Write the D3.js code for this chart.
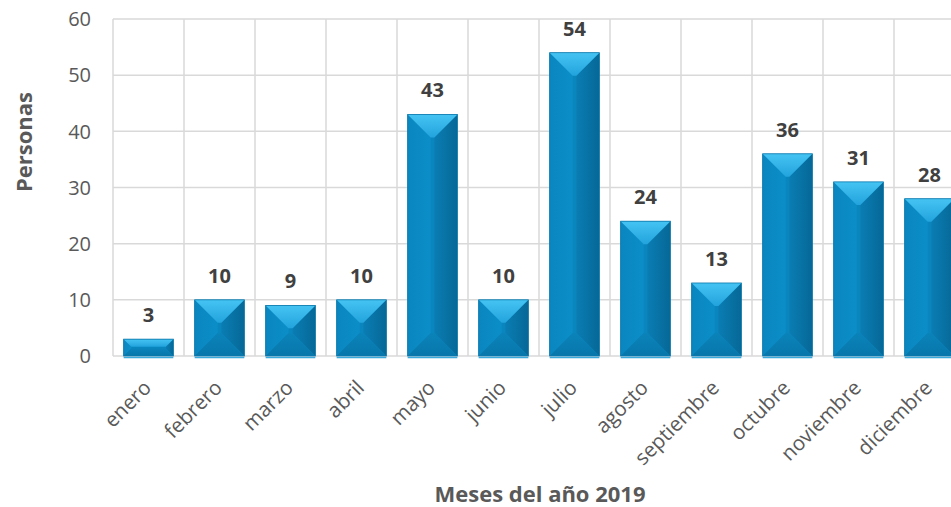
<!DOCTYPE html>
<html>
<head>
<meta charset="utf-8">
<script src="https://cdn.jsdelivr.net/npm/d3@7"></script>
<style>
  body { margin: 0; background: #fff; }
  svg { display: block; font-family: "Open Sans", sans-serif; }
</style>
</head>
<body>
<div id="canvas"></div>
<script>
"use strict"

/* Data */
let months = ["enero", "febrero", "marzo", "abril", "mayo", "junio",
    "julio", "agosto", "septiembre", "octubre", "noviembre", "diciembre"];
let persons = [3, 10, 9, 10, 43, 10, 54, 24, 13, 36, 31, 28];
let yTicks = [0, 10, 20, 30, 40, 50, 60];

/* Drawing config */
let svgWidth = 951;
let svgHeight = 507;
let plotLeft = 113;
let plotTop = 19;
let plotBottom = 356;
let band = 71; // width of one month slot, the last one runs off the page

let svg = d3.select("#canvas")
    .append("svg")
    .attr("width", svgWidth)
    .attr("height", svgHeight);

let xScale = d3.scaleBand()
    .domain(months)
    .range([plotLeft, plotLeft + band * months.length])
    .paddingInner(0.3)
    .paddingOuter(0.15);

let yScale = d3.scaleLinear()
    .domain([0, 60])
    .range([plotBottom, plotTop]);

/* gradients for the bevelled bars */
let defs = svg.append("defs");

function gradient(id, x2, y2, stops) {
    let g = defs.append("linearGradient")
        .attr("id", id)
        .attr("x1", 0).attr("y1", 0)
        .attr("x2", x2).attr("y2", y2);
    stops.forEach(function (s) {
        g.append("stop").attr("offset", s[0]).attr("stop-color", s[1]);
    });
}
gradient("gTop", 0, 1, [[0, "#45c4f3"], [1, "#22a3dc"]]);
gradient("gLeft", 1, 0, [[0, "#0a86bf"], [1, "#0b8ec8"]]);
gradient("gRight", 1, 0, [[0, "#0a7db3"], [1, "#066897"]]);
gradient("gBottom", 0, 1, [[0, "#0a83ba"], [1, "#0877aa"]]);

/* horizontal grid */
svg.append("g")
    .selectAll("line")
    .data(yTicks)
    .join("line")
    .attr("x1", plotLeft)
    .attr("x2", svgWidth)
    .attr("y1", d => yScale(d))
    .attr("y2", d => yScale(d))
    .attr("stroke", "#d9d9d9")
    .attr("stroke-width", 1.5);

/* vertical grid at month boundaries */
let bounds = d3.range(months.length + 1).map(i => plotLeft + i * band);
svg.append("g")
    .selectAll("line")
    .data(bounds)
    .join("line")
    .attr("x1", d => d)
    .attr("x2", d => d)
    .attr("y1", plotTop)
    .attr("y2", plotBottom)
    .attr("stroke", "#d9d9d9")
    .attr("stroke-width", 1.5);

/* y tick labels */
svg.append("g")
    .selectAll("text")
    .data(yTicks)
    .join("text")
    .attr("x", 91)
    .attr("y", d => yScale(d))
    .attr("dy", "0.36em")
    .attr("text-anchor", "end")
    .attr("font-size", 20)
    .attr("fill", "#595959")
    .text(d => d);

/* bars, drawn as a flat face plus four bevel facets */
let bars = svg.append("g")
    .selectAll("g")
    .data(months.map((m, i) => ({ month: m, value: persons[i] })))
    .join("g");

function facets(d) {
    let x0 = xScale(d.month);
    let x1 = x0 + xScale.bandwidth();
    let y0 = yScale(d.value);
    let y1 = yScale(0);
    let w = x1 - x0;
    let h = y1 - y0;
    let b = Math.min(23, h * 0.45);
    let bx = Math.min(w / 2, b);
    return {
        left: [[x0, y0], [x0 + bx, y0 + b], [x0 + bx, y1 - b], [x0, y1]],
        right: [[x1, y0], [x1 - bx, y0 + b], [x1 - bx, y1 - b], [x1, y1]],
        top: [[x0, y0], [x1, y0], [x1 - bx, y0 + b], [x0 + bx, y0 + b]],
        bottom: [[x0, y1], [x1, y1], [x1 - bx, y1 - b], [x0 + bx, y1 - b]]
    };
}

bars.append("rect")
    .attr("x", d => xScale(d.month))
    .attr("y", d => yScale(d.value))
    .attr("width", xScale.bandwidth())
    .attr("height", d => yScale(0) - yScale(d.value))
    .attr("fill", "#0a86be");

[["left", "url(#gLeft)"], ["right", "url(#gRight)"],
 ["bottom", "url(#gBottom)"], ["top", "url(#gTop)"]].forEach(function (f) {
    bars.append("polygon")
        .attr("points", d => facets(d)[f[0]].map(p => p.join(",")).join(" "))
        .attr("fill", f[1]);
});

// thin edge around each bar
bars.append("rect")
    .attr("x", d => xScale(d.month))
    .attr("y", d => yScale(d.value))
    .attr("width", xScale.bandwidth())
    .attr("height", d => yScale(0) - yScale(d.value))
    .attr("fill", "none")
    .attr("stroke", "#0a78ac")
    .attr("stroke-width", 0.8);

// light base line under the bars
bars.append("line")
    .attr("x1", d => xScale(d.month))
    .attr("x2", d => xScale(d.month) + xScale.bandwidth())
    .attr("y1", plotBottom + 1.5)
    .attr("y2", plotBottom + 1.5)
    .attr("stroke", "#3aa9dc")
    .attr("stroke-width", 1.5);

/* value labels */
bars.append("text")
    .attr("x", d => xScale(d.month) + xScale.bandwidth() / 2)
    .attr("y", d => yScale(d.value) - 17)
    .attr("text-anchor", "middle")
    .attr("font-size", 20)
    .attr("font-weight", "bold")
    .attr("fill", "#404040")
    .text(d => d.value);

/* x tick labels, rotated */
svg.append("g")
    .selectAll("text")
    .data(months)
    .join("text")
    .attr("text-anchor", "end")
    .attr("font-size", 20.5)
    .attr("fill", "#595959")
    .attr("transform", d => "translate(" + (xScale(d) + xScale.bandwidth() / 2 + 4) + "," + 389 + ") rotate(-45)")
    .text(d => d);

/* axis titles */
svg.append("text")
    .attr("x", 540)
    .attr("y", 502)
    .attr("text-anchor", "middle")
    .attr("font-size", 22)
    .attr("font-weight", "bold")
    .attr("fill", "#595959")
    .text("Meses del año 2019");

svg.append("text")
    .attr("transform", "translate(32,142) rotate(-90)")
    .attr("text-anchor", "middle")
    .attr("font-size", 22)
    .attr("font-weight", "bold")
    .attr("fill", "#595959")
    .text("Personas");
</script>
</body>
</html>
